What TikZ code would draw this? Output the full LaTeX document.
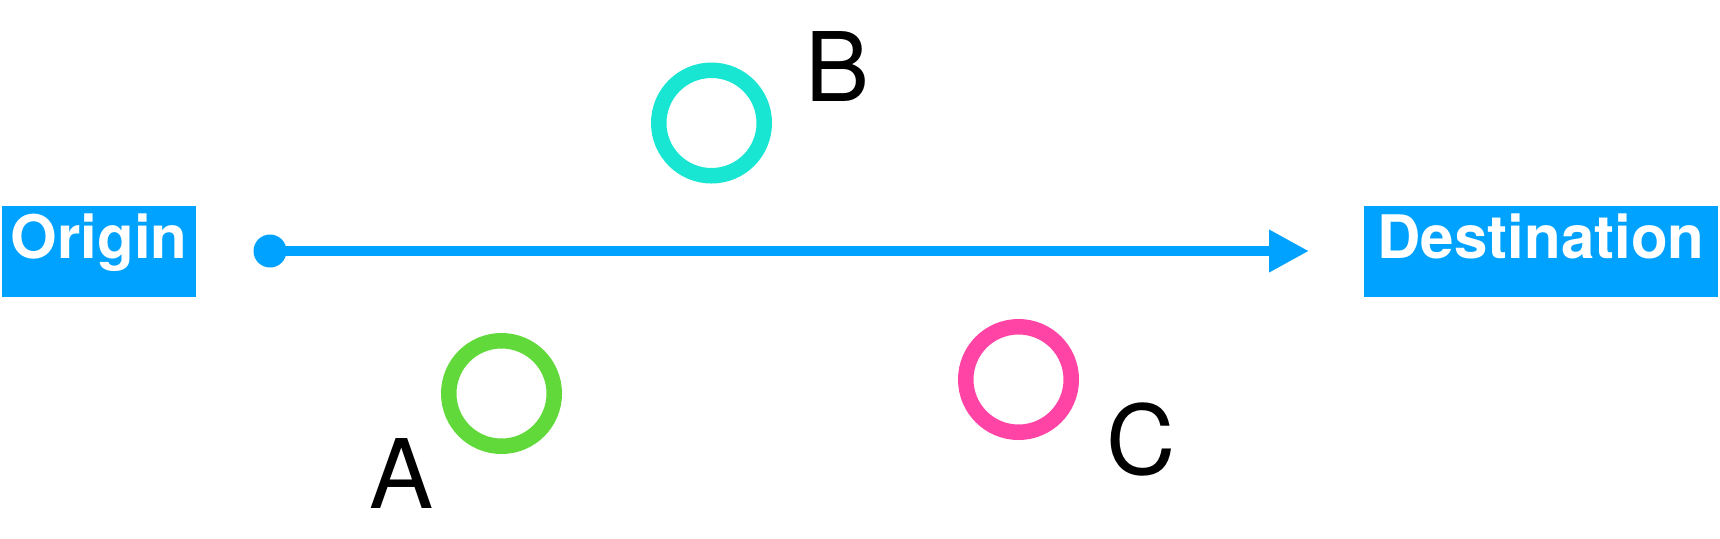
\documentclass[tikz,border=0pt]{standalone}
\usepackage{fontspec}
\setmainfont{TeX Gyre Heros}
\usetikzlibrary{arrows.meta}
\definecolor{flowblue}{RGB}{0,162,255}
\definecolor{ringteal}{RGB}{24,230,210}
\definecolor{ringgreen}{RGB}{98,217,59}
\definecolor{ringpink}{RGB}{255,68,165}
\tikzset{
  bluebox/.style={fill=flowblue, text=white, inner sep=0pt,
    minimum height=45.5pt, font=\fontsize{30}{36}\selectfont\bfseries,
    text height=0.72em, text depth=0.04em},
  ring/.style={circle, draw=#1, line width=7.75pt, minimum size=52.75pt, inner sep=0pt},
  letterlab/.style={inner sep=0pt, font=\fontsize{48}{58}\selectfont},
  flowline/.style={draw=flowblue, line width=5pt, -{Triangle[length=20pt,width=20pt]}}
}
\begin{document}
\begin{tikzpicture}[x=0.5pt, y=-0.5pt]
\useasboundingbox (0,0) rectangle (1720,538);
\node[bluebox, minimum width=97pt] (origin) at (99,251.5) {Origin};
\node[bluebox, minimum width=177pt] (dest) at (1541,251.5) {Destination};
\node[circle, fill=flowblue, minimum size=16.5pt, inner sep=0pt] (start) at (270,251) {};
\coordinate (tipend) at (1309,251);
\draw[flowline] (start.center) -- (tipend);
\node[ring=ringteal] (ringB) at (711.5,123) {};
\node[ring=ringgreen] (ringA) at (501.5,393.5) {};
\node[ring=ringpink] (ringC) at (1018.5,379.5) {};
\node[letterlab] (labB) at (838,66) {B};
\node[letterlab] (labA) at (402,473.5) {A};
\node[letterlab] (labC) at (1141,439.5) {C};
\end{tikzpicture}
\end{document}
